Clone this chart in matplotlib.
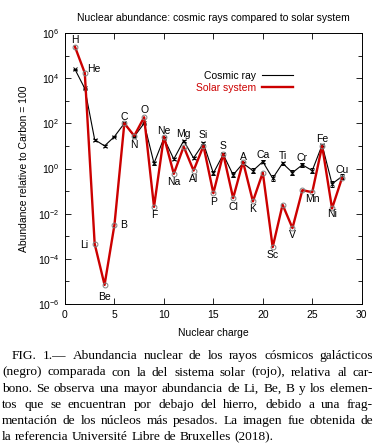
import numpy as np
import matplotlib
matplotlib.use("Agg")
import matplotlib.pyplot as plt
from matplotlib.lines import Line2D

#%% Data (abundance relative to C = 100)
charge = list(range(1, 29))
elements = ["H", "He", "Li", "Be", "B", "C", "N", "O", "F", "Ne", "Na", "Mg", "Al", "Si",
            "P", "S", "Cl", "A", "K", "Ca", "Sc", "Ti", "V", "Cr", "Mn", "Fe", "Ni", "Cu"]
cosmic = [2.5e4, 3.5e3, 19, 10, 26, 100, 26, 100, 1.7, 22, 2.6, 17, 2.9, 13,
          0.62, 4.2, 0.52, 1.7, 0.8, 2.0, 0.37, 1.7, 0.66, 1.45, 0.81, 11, 0.21, 0.44]
solar = [2.5e5, 1.7e4, 4.6e-4, 7e-6, 3.2e-3, 100, 28, 186, 0.02, 26, 0.58, 9.3, 0.81, 10,
         0.081, 4.4, 0.049, 2.0, 0.035, 0.66, 3.3e-4, 0.025, 2.3e-3, 0.11, 0.089, 10, 0.017, 0.37]
cosmic_relerr = [0.05, 0.05, 0.1, 0.1, 0.1, 0.05, 0.1, 0.05, 0.2, 0.1, 0.15, 0.1, 0.15, 0.1,
                 0.25, 0.1, 0.3, 0.2, 0.3, 0.15, 0.35, 0.2, 0.3, 0.2, 0.25, 0.1, 0.35, 0.3]

caption_lines = [
    "FIG. 1.\u2014 Abundancia nuclear de los rayos cósmicos galácticos",
    "(negro) comparada con la del sistema solar (rojo), relativa al car-",
    "bono. Se observa una mayor abundancia de Li, Be, B y los elemen-",
    "tos que se encuentran por debajo del hierro, debido a una frag-",
    "mentación de los núcleos más pesados. La imagen fue obtenida de",
    "la referencia Université Libre de Bruxelles (2018).",
]

#%% label placement: (which series, dx px, dy px; dy positive = down)
label_pos = {
    "H": ("s", 0, -7), "He": ("s", 9, -4), "Li": ("s", -10, 1), "Be": ("s", 0, 12),
    "B": ("s", 9, 0), "C": ("s", 0, -6), "N": ("c", 0, 8), "O": ("s", 0, -7),
    "F": ("s", 0, 8), "Ne": ("s", 0, -6), "Na": ("s", 0, 8), "Mg": ("c", 0, -7),
    "Al": ("s", 0, 8), "Si": ("c", 0, -8), "P": ("s", 0, 9), "S": ("c", 0, -8),
    "Cl": ("s", 0, 9), "A": ("c", 0, -6), "K": ("s", 0, 8), "Ca": ("c", 0, -7),
    "Sc": ("s", 0, 8), "Ti": ("c", 0, -7), "V": ("s", 0, 7), "Cr": ("c", 0, -7),
    "Mn": ("s", 0, 7), "Fe": ("c", 0, -6), "Ni": ("s", 0, 6), "Cu": ("c", 0, -7),
}

plt.rcParams['font.family'] = ['Liberation Sans', 'DejaVu Sans']
plt.rcParams['mathtext.fontset'] = 'custom'
plt.rcParams['mathtext.rm'] = 'Liberation Sans'
plt.rcParams['mathtext.it'] = 'Liberation Sans'

fig = plt.figure(figsize=(3.75, 4.44), dpi=100)
ax = fig.add_axes([65 / 375, 1 - 304 / 444, 296.7 / 375, 271 / 444])

cosmic = np.array(cosmic)
solar = np.array(solar)
f = np.array(cosmic_relerr)
yerr = [cosmic * f / (1 + f), cosmic * f]

ax.errorbar(charge, cosmic, yerr=yerr, color='black', lw=0.8, marker='x', ms=3.5,
            mew=0.7, capsize=1.5, elinewidth=0.6, zorder=2)
ax.plot(charge, solar, color='#cc0000', lw=1.7, marker='o', ms=3.5, mfc='none',
        mec='0.5', mew=0.7, zorder=3)

for i, el in enumerate(elements):
    which, dx, dy = label_pos[el]
    yv = solar[i] if which == "s" else cosmic[i]
    ax.annotate(el, (charge[i], yv), xytext=(dx, -dy), textcoords='offset pixels',
                ha='center', va='center', fontsize=7.5, zorder=4)

ax.set_yscale('log')
ax.set_xlim(0, 30)
ax.set_ylim(1e-6, 1e6)
ax.set_xticks([0, 5, 10, 15, 20, 25, 30])
ax.set_yticks([10.0 ** k for k in range(-6, 7, 2)])
ax.set_yticks([10.0 ** k for k in range(-5, 6, 2)], minor=True)
ax.yaxis.set_minor_formatter(matplotlib.ticker.NullFormatter())
ax.tick_params(which='both', direction='in', top=True, right=True, labelsize=7.5,
               width=0.6, pad=4)
ax.tick_params(which='major', length=4)
ax.tick_params(which='minor', length=3)
for s in ax.spines.values():
    s.set_linewidth(0.7)

ax.set_xlabel("Nuclear charge", fontsize=7.5, labelpad=6)
ax.set_ylabel("Abundance relative to Carbon = 100", fontsize=7.5, labelpad=6)
ax.set_title("Nuclear abundance: cosmic rays compared to solar system", fontsize=7.5, pad=9)

handles = [Line2D([], [], color='black', lw=0.8), Line2D([], [], color='#cc0000', lw=1.7)]
leg = ax.legend(handles, ["Cosmic ray", "Solar system"], loc='upper right',
                bbox_to_anchor=(0.77, 0.86), frameon=False, markerfirst=False,
                fontsize=7.5, handlelength=3.0, handletextpad=0.6, labelspacing=0.15,
                borderpad=0, borderaxespad=0)
leg.get_texts()[1].set_color('#cc0000')

#%% caption, justified like the paper
fig.canvas.draw()
renderer = fig.canvas.get_renderer()
left_px, right_px = 2.0, 373.0
baselines = [359, 375.5, 391.5, 408, 424, 440]
cap_font = dict(family='Liberation Serif', fontsize=9.6)
for k, line in enumerate(caption_lines):
    words = line.split(" ")
    x0 = 12.0 if k == 0 else left_px
    y = 1 - baselines[k] / 444
    texts = []
    for w in words:
        t = fig.text(0, y, w, va='baseline', ha='left', **cap_font)
        texts.append(t)
    widths = [t.get_window_extent(renderer).width for t in texts]
    if k < len(caption_lines) - 1:
        gap = (right_px - x0 - sum(widths)) / (len(words) - 1)
    else:
        sp = fig.text(0, 0, "a a", **cap_font)
        w2 = sp.get_window_extent(renderer).width
        sp.remove()
        sa = fig.text(0, 0, "aa", **cap_font)
        gap = w2 - sa.get_window_extent(renderer).width
        sa.remove()
    x = x0
    for t, w in zip(texts, widths):
        t.set_x(x / 375)
        x += w + gap

fig.savefig("out.png", dpi=100)
